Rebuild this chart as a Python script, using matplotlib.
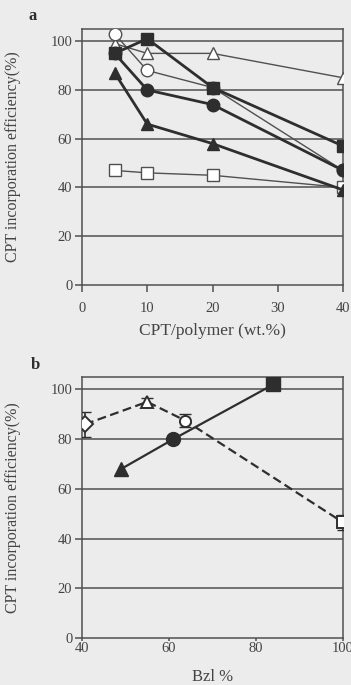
import numpy as np
import matplotlib.pyplot as plt

# panel a: CPT/polymer (wt.%) vs incorporation efficiency
load = [5, 10, 20, 40]
eff_open_circle = [103, 88, 81, 47]
eff_open_tri = [99, 95, 95, 85]
eff_fill_square = [95, 101, 81, 57]
eff_fill_circle = [95, 80, 74, 47]
eff_fill_tri = [87, 66, 58, 39]
eff_open_square = [47, 46, 45, 40]

# panel b: Bzl % vs incorporation efficiency
bzl_solid = [49, 61, 84]
eff_solid = [68, 80, 102]
bzl_dash = [40.7, 55, 63.7, 100]
eff_dash = [86, 95, 87.5, 46.5]
err_dash = [5, 1.5, 2.5, 3]

BG = "#ececec"
INK = "#2e2e2e"
GREY = "#505050"
SERIF = ["Liberation Serif", "DejaVu Serif"]

plt.rcParams.update({"font.family": SERIF, "font.size": 10.5})

fig = plt.figure(figsize=(3.51, 6.85), dpi=100, facecolor=BG)
W, H = 351, 685
ax_a = fig.add_axes([82 / W, 1 - 285 / H, 261 / W, 256 / H])
ax_b = fig.add_axes([82 / W, 1 - 638 / H, 261 / W, 261 / H])


def style(ax):
    ax.set_facecolor(BG)
    ax.set_ylim(0, 105)
    ax.set_yticks([0, 20, 40, 60, 80, 100])
    for y in [20, 40, 60, 80, 100]:
        ax.axhline(y, color=GREY, linewidth=1.1, zorder=1)
    for s in ax.spines.values():
        s.set_color(GREY)
        s.set_linewidth(1.1)
    ax.tick_params(direction="out", length=5, width=1.1, color=GREY,
                   labelcolor="#444", labelsize=10.5)
    ax.tick_params(axis="y", pad=2)
    ax.set_ylabel("CPT incorporation efficiency(%)", fontsize=11.5, color="#444")
    ax.yaxis.set_label_coords(-0.232, 0.5)


style(ax_a)
thin = dict(color=GREY, linewidth=1.0, markersize=9, zorder=3)
thick = dict(color=INK, linewidth=2.0, markersize=9, zorder=4)
ax_a.plot(load, eff_open_square, marker="s", mfc="white", mec=GREY, **thin)
ax_a.plot(load, eff_open_tri, marker="^", mfc="white", mec=GREY, **thin)
ax_a.plot(load, eff_open_circle, marker="o", mfc="white", mec=GREY, **thin)
ax_a.plot(load, eff_fill_tri, marker="^", mfc=INK, mec=INK, **thick)
ax_a.plot(load, eff_fill_circle, marker="o", mfc=INK, mec=INK, **thick)
ax_a.plot(load, eff_fill_square, marker="s", mfc=INK, mec=INK, **thick)
ax_a.set_xlim(0, 40)
ax_a.set_xticks([0, 10, 20, 30, 40])
ax_a.tick_params(axis="x", pad=7)
ax_a.set_xlabel("CPT/polymer (wt.%)", fontsize=12.5, color="#444", labelpad=6)
fig.text(33 / W, 1 - 16 / H, "a", fontsize=12, fontweight="bold", color=INK,
         va="center", ha="center")

style(ax_b)
ax_b.plot(bzl_solid, eff_solid, color=INK, linewidth=1.6, zorder=3)
for xv, yv, m in zip(bzl_solid, eff_solid, ["^", "o", "s"]):
    ax_b.plot(xv, yv, marker=m, color=INK, markersize=10, zorder=4)
ax_b.errorbar(bzl_dash, eff_dash, yerr=err_dash, fmt="none", ecolor=INK,
              elinewidth=1.2, capsize=4, zorder=5)
ax_b.plot(bzl_dash, eff_dash, color=INK, linewidth=1.6, linestyle=(0, (4, 2)),
          zorder=3)
for xv, yv, m in zip(bzl_dash, eff_dash, ["D", "^", "o", "s"]):
    ax_b.plot(xv, yv, marker=m, mfc="white", mec=INK, mew=1.4, markersize=8,
              linestyle="none", zorder=6)
ax_b.set_xlim(40, 100)
ax_b.set_xticks([40, 60, 80, 100])
ax_b.tick_params(axis="x", length=2, pad=1)
ax_b.set_xlabel("Bzl %", fontsize=12, color="#444", labelpad=10)
fig.text(35 / W, 1 - 365 / H, "b", fontsize=12, fontweight="bold", color=INK,
         va="center", ha="center")

fig.savefig("out.png", dpi=100, facecolor=BG)
